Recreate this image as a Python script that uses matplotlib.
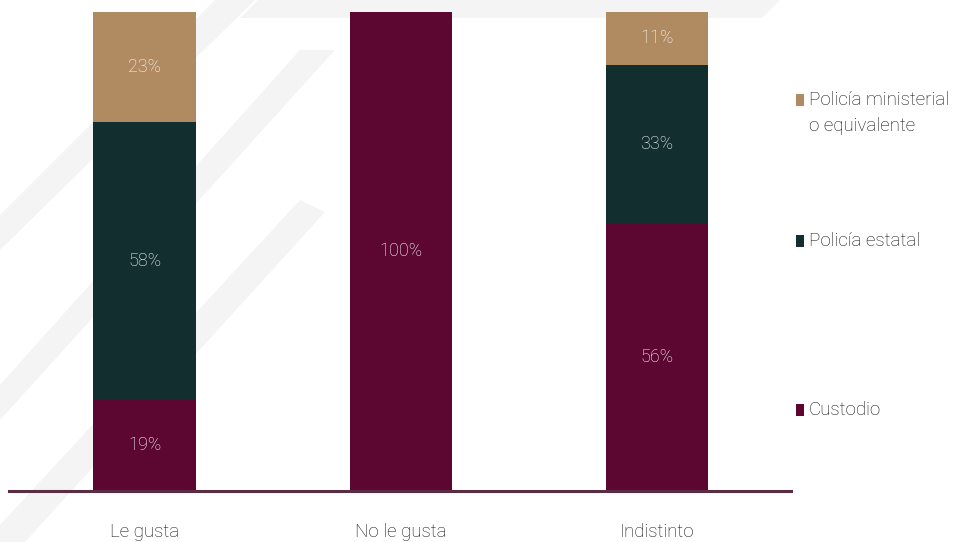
import matplotlib
matplotlib.use("Agg")
import matplotlib.pyplot as plt
from matplotlib.patches import Polygon, Rectangle

categories = ["Le gusta", "No le gusta", "Indistinto"]
series_names = ["Custodio", "Policía estatal", "Policía ministerial\no equivalente"]
custodio = [19, 100, 56]
estatal = [58, 0, 33]
ministerial = [23, 0, 11]
colors = ["#5C0732", "#132E2F", "#B08A60"]

plt.rcParams['font.family'] = ['Roboto', 'DejaVu Sans']
FW = 'light'

fig = plt.figure(figsize=(9.71, 5.42), dpi=100)

# faint watermark stripes in the background
bg = fig.add_axes([0, 0, 1, 1], zorder=0)
bg.set_xlim(0, 971); bg.set_ylim(542, 0); bg.axis('off')
for s in [[(0, 250), (0, 215), (215, 0), (255, 0)],
          [(0, 420), (0, 385), (300, 50), (335, 50)],
          [(25, 542), (0, 542), (0, 525), (300, 200), (325, 212)],
          [(240, 18), (258, 0), (780, 0), (762, 18)]]:
    bg.add_patch(Polygon(s, closed=True, facecolor="#f4f4f4", edgecolor="none"))

ax = fig.add_axes([9/971, 51/542, (791-9)/971, (491-12)/542], zorder=1)
ax.patch.set_alpha(0)
x = list(range(len(categories)))
width = 0.40
bottoms = [0, 0, 0]
for vals, col in zip([custodio, estatal, ministerial], colors):
    ax.bar(x, vals, width, bottom=bottoms, color=col, edgecolor="none")
    for xi, v, b in zip(x, vals, bottoms):
        if v > 0:
            ax.text(xi, b + v / 2, f"{v}%", ha="center", va="center",
                    color="white", fontsize=13, fontweight=FW)
    bottoms = [b + v for b, v in zip(bottoms, vals)]

ax.set_xlim(-0.529, 2.523)
ax.set_ylim(0, 100)
for sp in ["top", "right", "left"]:
    ax.spines[sp].set_visible(False)
ax.spines["bottom"].set_color("#5a2d42")
ax.spines["bottom"].set_linewidth(2.2)
ax.set_yticks([])
ax.set_xticks(x)
ax.set_xticklabels(categories, fontsize=13.5, color="#111111", fontweight=FW)
ax.tick_params(axis="x", length=0, pad=23)

# legend
leg_y = [100, 241, 410]
for name, col, yy in zip([series_names[2], series_names[1], series_names[0]],
                         [colors[2], colors[1], colors[0]], leg_y):
    fig.patches.append(Rectangle((796/971, 1 - (yy + 6) / 542), 8/971, 12/542,
                                 transform=fig.transFigure, facecolor=col,
                                 edgecolor="none"))
    lines = name.split("\n")
    for i, ln in enumerate(lines):
        fig.text(809/971, 1 - (yy + 26 * i) / 542, ln, fontsize=13.5,
                 color="#111111", va="center", ha="left", fontweight=FW)

fig.savefig("out.png", dpi=100)
